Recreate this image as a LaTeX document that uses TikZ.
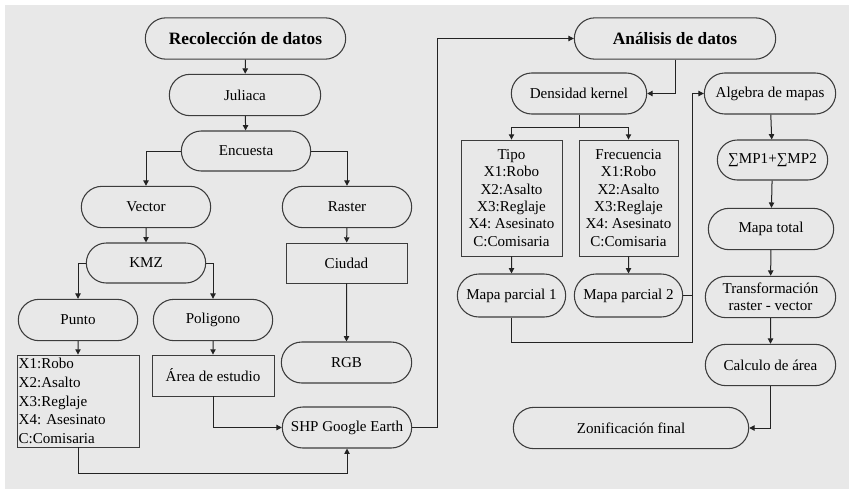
\documentclass[tikz,border=0pt]{standalone}
\usepackage{fontspec}
\setmainfont{Liberation Serif}
\usetikzlibrary{arrows.meta,shapes.misc}
\frenchspacing

\definecolor{fondo}{RGB}{232,232,232}
\definecolor{borde}{RGB}{60,60,60}
\definecolor{linea}{RGB}{35,35,35}

\tikzset{every picture/.style={line width=0.75pt}}
\tikzset{
  terminal/.style={rounded rectangle, draw=borde, line width=0.8pt, inner sep=1pt,
    minimum height=31pt, font=\fontsize{11.3}{13.5}\selectfont, align=center},
  titulo/.style={terminal, font=\fontsize{13}{15}\selectfont\bfseries},
  caja/.style={rectangle, draw=borde, line width=0.6pt, inner sep=1pt,
    minimum height=30.75pt, font=\fontsize{11.3}{13}\selectfont, align=center},
  flecha/.style={draw=linea, line width=0.75pt, -{Triangle[length=4pt,width=4pt]}},
  union/.style={draw=linea, line width=0.75pt}
}

\begin{document}
\begin{tikzpicture}[x=0.75pt,y=0.75pt,yscale=-1,xscale=1]
	\useasboundingbox (0,0) rectangle (849,489);
	%Shape: background
	\fill[fondo] (5,5) rectangle (849,489);
	
	% Recoleccion column
	\node[titulo, minimum width=152.25pt] (reco) at (245.5,38.5) {Recolección de datos};
	\node[terminal, minimum width=115.5pt] (juli) at (245,95) {Juliaca};
	\node[terminal, minimum width=99pt, minimum height=30pt] (encu) at (246,151) {Encuesta};
	\node[terminal, minimum width=99pt] (vect) at (146,207) {Vector};
	\node[terminal, minimum width=99pt] (rast) at (347,207) {Raster};
	\node[terminal, minimum width=91.5pt, minimum height=30pt] (kmz) at (146,263) {KMZ};
	\node[caja, minimum width=90.75pt, minimum height=30pt] (ciud) at (346.5,263) {Ciudad};
	\node[terminal, minimum width=91.5pt] (punt) at (78,320) {Punto};
	\node[terminal, minimum width=91.5pt] (poli) at (213,320) {Poligono};
	\node[caja, minimum width=91.5pt, minimum height=69pt, text width=89pt, align=left,
	  font=\fontsize{11.3}{14}\selectfont] (lista) at (78,401)
	  {X1:Robo\\X2:Asalto\\X3:Reglaje\\X4: Asesinato\\C:Comisaria};
	\node[caja, minimum width=91.5pt] (area) at (213,375.5) {Área de estudio};
	\node[terminal, minimum width=99.75pt, minimum height=30.75pt] (rgb) at (346.5,362.5) {RGB};
	\node[terminal, minimum width=99pt, minimum height=30.75pt] (shp) at (347,427.5) {SHP Google Earth};
	
	% Analisis column
	\node[titulo, minimum width=153pt] (anal) at (675,38.5) {Análisis de datos};
	\node[terminal, minimum width=103.5pt, minimum height=30.75pt] (dens) at (579,93.5) {Densidad kernel};
	\node[terminal, minimum width=100.5pt, minimum height=30.75pt] (alg) at (770,93.5) {Algebra de mapas};
	\node[caja, minimum width=75.75pt, minimum height=87pt] (tipo) at (511.5,198)
	  {Tipo\\X1:Robo\\X2:Asalto\\X3:Reglaje\\X4: Asesinato\\C:Comisaria};
	\node[caja, minimum width=74.25pt, minimum height=87pt] (frec) at (628.5,198)
	  {Frecuencia\\X1:Robo\\X2:Asalto\\X3:Reglaje\\X4: Asesinato\\C:Comisaria};
	\node[terminal, minimum width=84.75pt, minimum height=30pt] (sum) at (772.5,160) {∑MP1+∑MP2};
	\node[terminal, minimum width=96pt] (mtot) at (771,229) {Mapa total};
	\node[terminal, minimum width=83.25pt, minimum height=32.25pt] (mp1) at (511.5,295.5) {Mapa parcial 1};
	\node[terminal, minimum width=83.25pt, minimum height=32.25pt] (mp2) at (628.5,295.5) {Mapa parcial 2};
	\node[terminal, minimum width=99.75pt, font=\fontsize{11.3}{12.5}\selectfont] (trans) at (770.5,297)
	  {Transformación\\raster - vector};
	\node[terminal, minimum width=99.75pt] (calc) at (770.5,365) {Calculo de área};
	\node[terminal, minimum width=178.5pt] (zoni) at (631,428) {Zonificación final};
	
	% bend points
	\coordinate (bajo) at (78,473);
	\coordinate (sube) at (437,38.5);
	\coordinate (reparte) at (579,127);
	\coordinate (junta) at (692,342);
	
	%Straight Lines
	\draw[flecha] (reco) -- (juli);
	\draw[flecha] (juli) -- (encu);
	\draw[flecha] (encu.west) -| (vect.north);
	\draw[flecha] (encu.east) -| (rast.north);
	\draw[flecha] (vect) -- (kmz);
	\draw[flecha] (rast) -- (ciud);
	\draw[flecha] (kmz.west) -| (punt.north);
	\draw[flecha] (kmz.east) -| (poli.north);
	\draw[flecha] (ciud) -- (rgb);
	\draw[flecha] (punt) -- (lista);
	\draw[flecha] (poli) -- (area);
	\draw[flecha] (area.south) |- (shp.west);
	\draw[flecha] (lista.south) -- (bajo) -| (shp.south);
	\draw[flecha] (shp.east) -| (sube) -- (anal.west);
	
	\draw[flecha] (anal.south) |- (dens.east);
	\draw[union] (dens.south) -- (reparte);
	\draw[flecha] (reparte) -| (tipo.north);
	\draw[flecha] (reparte) -| (frec.north);
	\draw[flecha] (tipo) -- (mp1);
	\draw[flecha] (frec) -- (mp2);
	\draw[union] (mp2.east) -- (mp2.east -| junta);
	\draw[flecha] (mp1.south) |- (junta) |- (alg.west);
	\draw[flecha] (alg) -- (sum);
	\draw[flecha] (sum) -- (mtot);
	\draw[flecha] (mtot) -- (trans);
	\draw[flecha] (trans) -- (calc);
	\draw[flecha] (calc.south) |- (zoni.east);
	
\end{tikzpicture}
\end{document}
